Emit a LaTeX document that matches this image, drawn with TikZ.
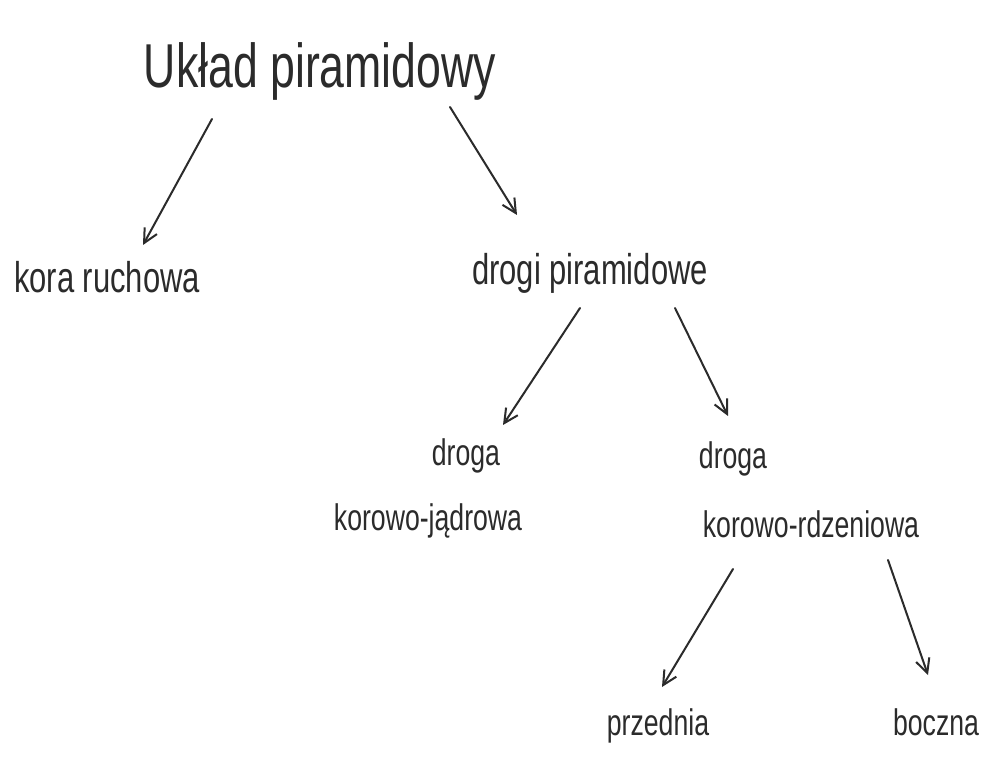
\documentclass[tikz,border=0pt]{standalone}
\usepackage{fontspec}
\setmainfont{Liberation Sans}[FakeStretch=0.72]
\usetikzlibrary{arrows.meta,calc}
\definecolor{ink}{HTML}{2B2B2B}

\begin{document}
\begin{tikzpicture}[
    x=1pt, y=-1pt,
    label/.style={anchor=base, inner sep=0pt, text=ink, font=\fontsize{37}{40}\selectfont},
    biglabel/.style={label, font=\fontsize{43}{46}\selectfont},
    titlelabel/.style={label, font=\fontsize{62}{66}\selectfont},
    arrow/.style={-{Straight Barb[length=14pt,width=14pt,line width=2pt]}, draw=ink, line width=2pt, line cap=round}
]
\useasboundingbox[fill=white] (0,0) rectangle (991,775);

% Top
\node[titlelabel] (title) at (320,88) {Układ piramidowy};

% Level 1
\node[biglabel] (kora) at (107,293) {kora ruchowa};
\node[biglabel] (drogi) at (590,285) {drogi piramidowe};
\draw[arrow] ([shift={(-108,31)}]title.base) -- ([shift={(36,-48)}]kora.base);
\draw[arrow] ([shift={(130,19)}]title.base) -- ([shift={(-73,-70)}]drogi.base);

% Level 2
\node[label] (drogaKJ) at (466,465) {droga};
\node[label] (korowoKJ) at (428,530) {korowo-jądrowa};
\node[label] (drogaKR) at (733,468) {droga};
\node[label] (korowoKR) at (811,537) {korowo-rdzeniowa};
\draw[arrow] ([shift={(-10,23)}]drogi.base) -- ([shift={(37,-40)}]drogaKJ.base);
\draw[arrow] ([shift={(85,23)}]drogi.base) -- ([shift={(-5,-52)}]drogaKR.base);

% Level 3
\node[label] (przednia) at (658,735) {przednia};
\node[label] (boczna) at (936,735) {boczna};
\draw[arrow] ([shift={(-78,32)}]korowoKR.base) -- ([shift={(4,-48)}]przednia.base);
\draw[arrow] ([shift={(77,23)}]korowoKR.base) -- ([shift={(-8,-60)}]boczna.base);

\end{tikzpicture}
\end{document}
